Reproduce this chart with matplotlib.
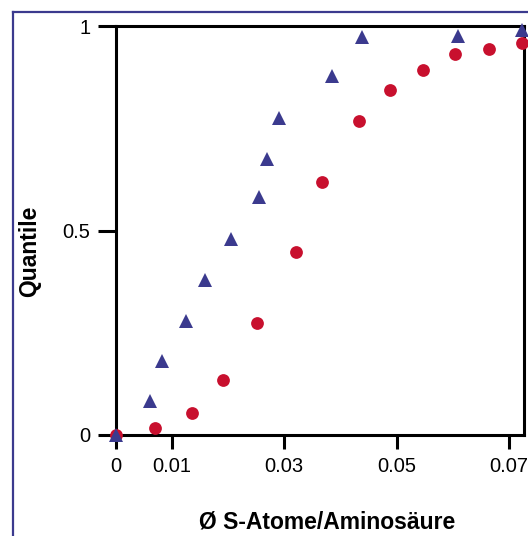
import matplotlib
matplotlib.use("Agg")
import matplotlib.pyplot as plt
from matplotlib.lines import Line2D

plt.rcParams['font.family'] = ['Liberation Sans', 'DejaVu Sans']

# Data
tri_x = [0.0, 0.0061, 0.0082, 0.0125, 0.0160, 0.0205, 0.0255, 0.0270, 0.0291, 0.0386, 0.0439, 0.0610, 0.0723]
tri_y = [0.0, 0.083, 0.181, 0.278, 0.379, 0.479, 0.581, 0.675, 0.774, 0.878, 0.974, 0.976, 0.990]

circ_x = [0.0, 0.0070, 0.0136, 0.0191, 0.0252, 0.0322, 0.0368, 0.0434, 0.0488, 0.0547, 0.0604, 0.0665, 0.0724]
circ_y = [0.0, 0.018, 0.053, 0.135, 0.274, 0.447, 0.619, 0.768, 0.844, 0.892, 0.931, 0.944, 0.958]

x_ticks = [0, 0.01, 0.03, 0.05, 0.07]
x_ticklabels = ["0", "0.01", "0.03", "0.05", "0.07"]
y_ticks = [0, 0.5, 1]
y_ticklabels = ["0", "0.5", "1"]

xlabel = "Ø S-Atome/Aminosäure"
ylabel = "Quantile"

blue = "#3b3a8e"
red = "#c8102e"

W, H = 528, 536
fig = plt.figure(figsize=(W / 100, H / 100), dpi=100)
ax = fig.add_axes([115.5 / W, 1 - 435 / H, 408 / W, 409 / H])

ax.plot(circ_x, circ_y, linestyle='none', marker='o', markersize=9.2,
        color=red, markeredgewidth=0, clip_on=False, zorder=3)
ax.plot(tri_x, tri_y, linestyle='none', marker='^', markersize=9.5,
        color=blue, markeredgewidth=0, clip_on=False, zorder=4)

ax.set_xlim(0, 0.07259)
ax.set_ylim(0, 1)

ax.set_xticks(x_ticks)
ax.set_xticklabels(x_ticklabels)
ax.set_yticks(y_ticks)
ax.set_yticklabels(y_ticklabels)

for s in ax.spines.values():
    s.set_linewidth(2.2)
    s.set_color('black')
    s.set_zorder(2)

ax.tick_params(axis='x', direction='out', length=10, width=2.2, pad=6,
               labelsize=14.5, colors='black')
ax.tick_params(axis='y', direction='out', length=13, width=2.2, pad=5,
               labelsize=14.5, colors='black')

ax.set_xlabel(xlabel, fontsize=16.5, fontweight='bold')
ax.xaxis.set_label_coords(0.518, -0.212)
ax.xaxis.label.set_va('center')
ax.set_ylabel(ylabel, fontsize=16.5, fontweight='bold')
ax.yaxis.set_label_coords(-0.2096, 0.45)
ax.yaxis.label.set_va('center')

# outer blue frame (cut off at right and bottom)
fx = 12.5 / W
fy = 1 - 11.5 / H
fig.add_artist(Line2D([fx, fx], [fy, -0.05], transform=fig.transFigure,
                      color=blue, linewidth=1.6))
fig.add_artist(Line2D([fx, 1.05], [fy, fy], transform=fig.transFigure,
                      color=blue, linewidth=1.6))

fig.savefig("out.png", dpi=100)
